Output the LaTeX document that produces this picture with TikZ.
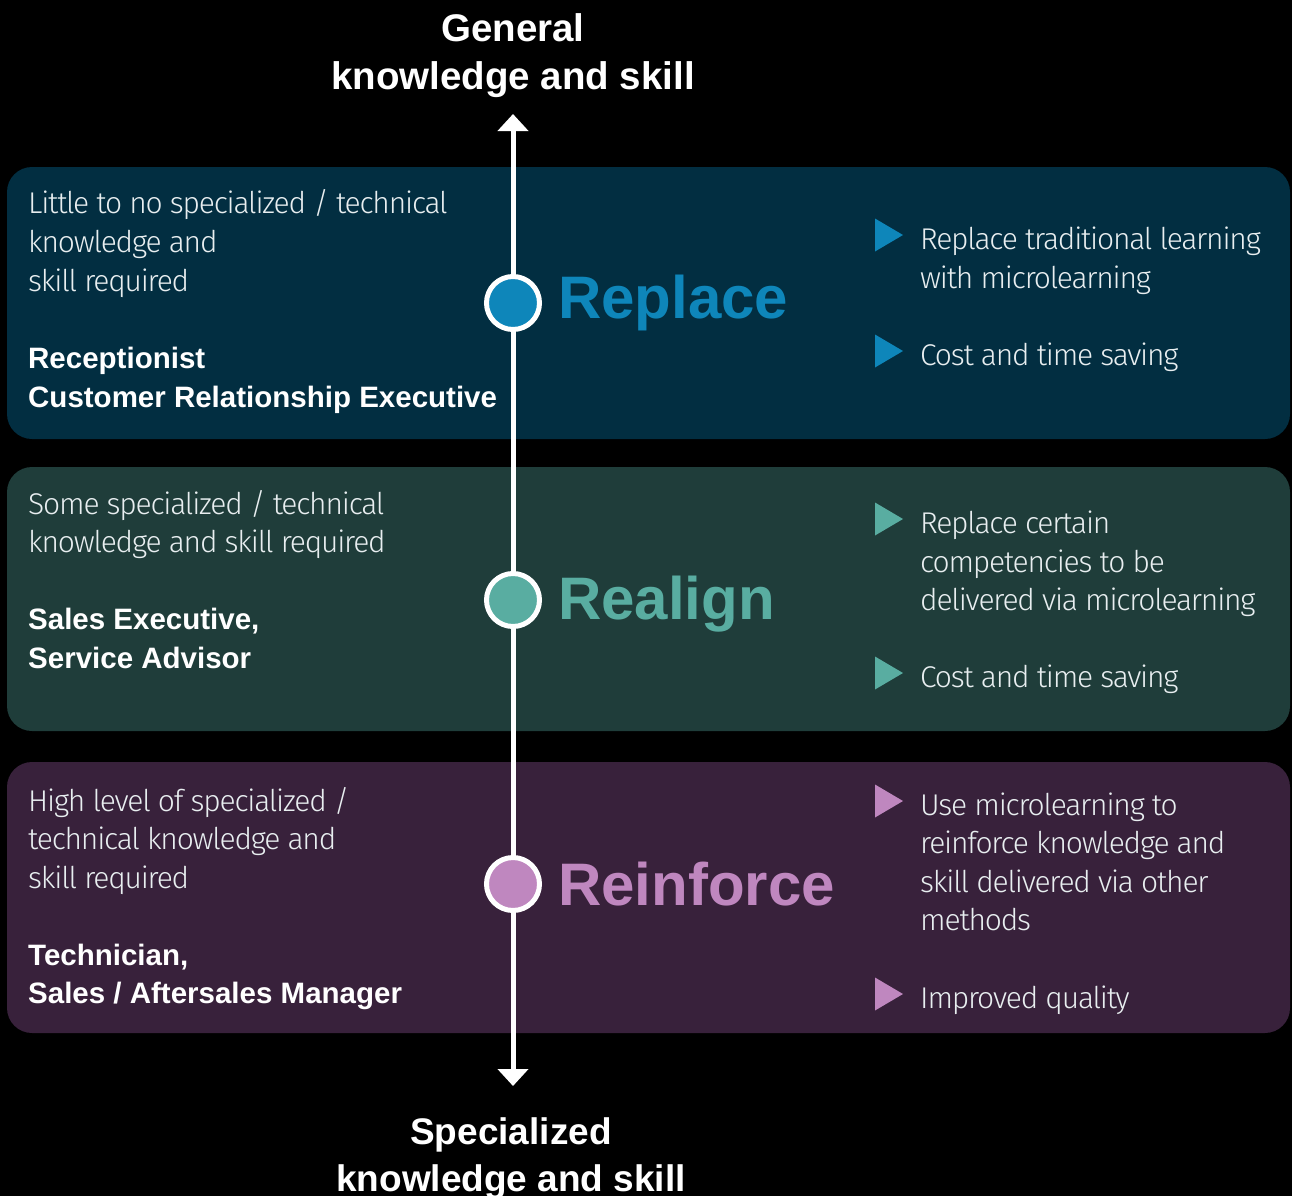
\documentclass[tikz,border=0pt]{standalone}
\usepackage{fontspec}
\setmainfont{Liberation Sans}
\newfontfamily\lightfont[LetterSpace=-4]{Fira Sans Light}
\usetikzlibrary{arrows.meta}
\definecolor{bandA}{HTML}{022E41}
\definecolor{bandB}{HTML}{1F3D3A}
\definecolor{bandC}{HTML}{38213B}
\definecolor{dotA}{HTML}{0E86BA}
\definecolor{dotB}{HTML}{59ADA1}
\definecolor{dotC}{HTML}{BF87BF}
\definecolor{txtlight}{HTML}{E8EEF0}
\tikzset{
  band/.style={rounded corners=25pt},
  lt/.style={anchor=base west, inner sep=0pt, text=txtlight, font=\lightfont\fontsize{30}{36}\selectfont},
  bd/.style={anchor=base west, inner sep=0pt, text=white, font=\bfseries\fontsize{29.5}{36}\selectfont},
  head/.style={anchor=base west, inner sep=0pt, font=\bfseries\fontsize{60}{70}\selectfont},
  title/.style={anchor=base, inner sep=0pt, text=white, font=\bfseries\fontsize{38.5}{46}\selectfont},
  btitle/.style={anchor=base, inner sep=0pt, text=white, font=\bfseries\fontsize{37}{44}\selectfont},
  dot/.style={circle, draw=white, line width=5pt, minimum size=53pt, inner sep=0pt},
  axis/.style={white, line width=5pt, {Triangle[width=30pt,length=17pt]}-{Triangle[width=30pt,length=17pt]}},
}
\newcommand\bul[2]{\fill[#1] (875,#2-16.5) -- (903,#2) -- (875,#2+16.5) -- cycle;}
\begin{document}
\begin{tikzpicture}[x=1pt,y=-1pt]
\useasboundingbox (0,0) rectangle (1292,1196);
\fill[black] (0,0) rectangle (1292,1196);
% bands
\fill[band, bandA] (7,167) rectangle (1290,439);
\fill[band, bandB] (7,467) rectangle (1290,731);
\fill[band, bandC] (7,762) rectangle (1290,1033);
% titles
\node[title] (t1) at (513,42) {General};
\node[title] (t2) at (513,90) {knowledge and skill};
\node[btitle] (b1) at (511,1144) {Specialized};
\node[btitle] (b2) at (511,1191) {knowledge and skill};
% axis
\coordinate (atop) at (513,114);
\coordinate (abot) at (513,1086);
\draw[axis] (abot) -- (atop);
% dots
\node[dot, fill=dotA] (d1) at (513,303) {};
\node[dot, fill=dotB] (d2) at (513,600) {};
\node[dot, fill=dotC] (d3) at (513,884) {};
% headings
\node[head, text=dotA] (h1) at (558,318) {Replace};
\node[head, text=dotB] (h2) at (558,619) {Realign};
\node[head, text=dotC] (h3) at (558,905) {Reinforce};
% left texts band 1
\node[lt] (la1) at (28,213) {Little to no specialized / technical};
\node[lt] (la2) at (28,252) {knowledge and};
\node[lt] (la3) at (28,291) {skill required};
\node[bd] (lb1) at (28,368) {Receptionist};
\node[bd] (lb2) at (28,407) {Customer Relationship Executive};
% left texts band 2
\node[lt] (lc1) at (28,514) {Some specialized / technical};
\node[lt] (lc2) at (28,552) {knowledge and skill required};
\node[bd] (ld1) at (28,629) {Sales Executive,};
\node[bd] (ld2) at (28,668) {Service Advisor};
% left texts band 3
\node[lt] (le1) at (28,811) {High level of specialized /};
\node[lt] (le2) at (28,849) {technical knowledge and};
\node[lt] (le3) at (28,888) {skill required};
\node[bd] (lf1) at (28,965) {Technician,};
\node[bd] (lf2) at (28,1003) {Sales / Aftersales Manager};
% right band 1
\bul{dotA}{235}
\node[lt] (ra1) at (920,249) {Replace traditional learning};
\node[lt] (ra2) at (920,288) {with microlearning};
\bul{dotA}{351}
\node[lt] (ra3) at (920,365) {Cost and time saving};
% right band 2
\bul{dotB}{519}
\node[lt] (rb1) at (920,533) {Replace certain};
\node[lt] (rb2) at (920,572) {competencies to be};
\node[lt] (rb3) at (920,610) {delivered via microlearning};
\bul{dotB}{673}
\node[lt] (rb4) at (920,687) {Cost and time saving};
% right band 3
\bul{dotC}{801}
\node[lt] (rc1) at (920,815) {Use microlearning to};
\node[lt] (rc2) at (920,853) {reinforce knowledge and};
\node[lt] (rc3) at (920,892) {skill delivered via other};
\node[lt] (rc4) at (920,930) {methods};
\bul{dotC}{994}
\node[lt] (rc5) at (920,1008) {Improved quality};
\end{tikzpicture}
\end{document}
